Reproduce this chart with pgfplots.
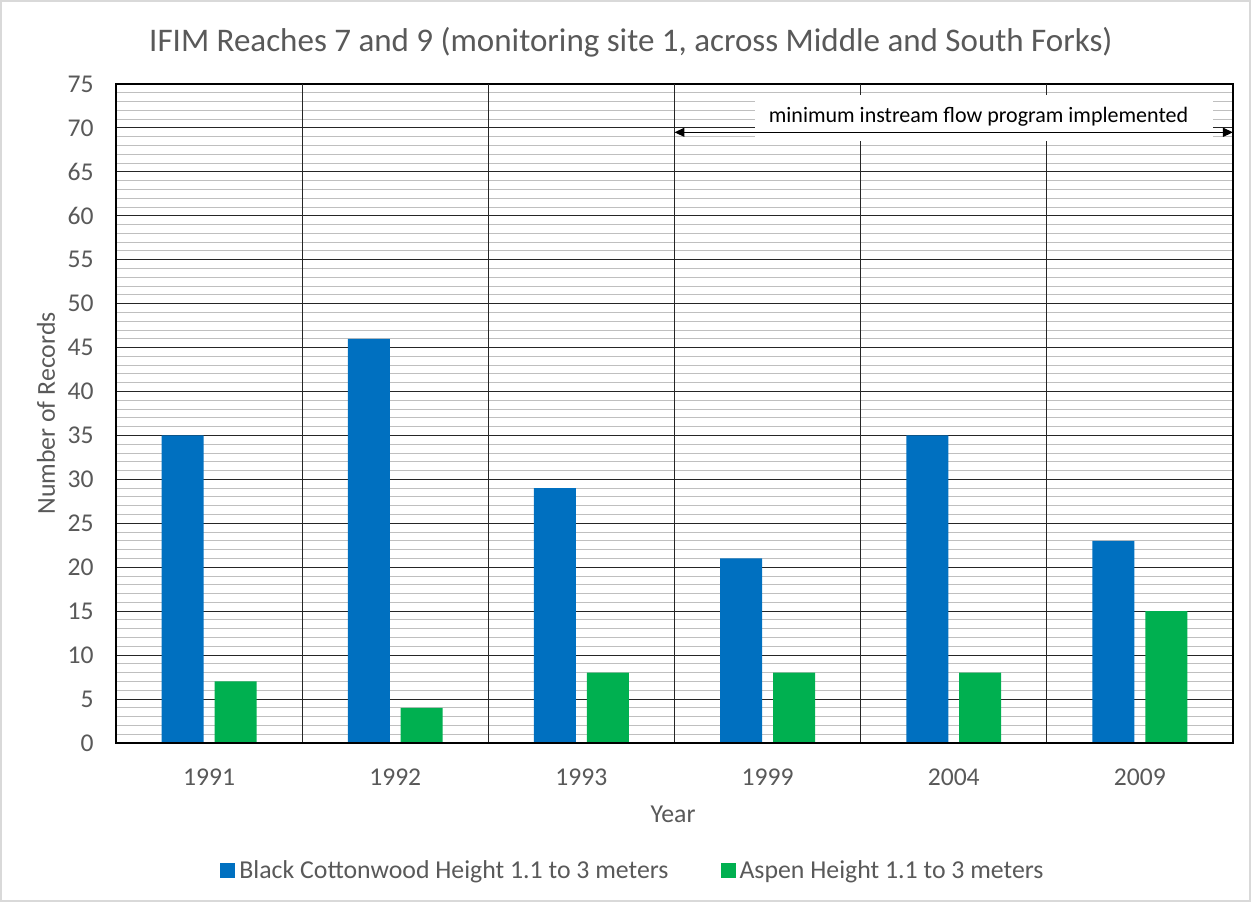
\documentclass[border=0pt]{standalone}
\usepackage{pgfplots}
\pgfplotsset{compat=1.18}
\usepackage{fontspec}
\setmainfont{Carlito}
\usetikzlibrary{arrows.meta}
\definecolor{cblue}{HTML}{0070C0}
\definecolor{cgreen}{HTML}{00B050}
\definecolor{txt}{HTML}{595959}
\definecolor{mgrid}{HTML}{BFBFBF}
\definecolor{frame}{HTML}{D9D9D9}
\definecolor{majgrid}{HTML}{262626}
\begin{document}
\begin{tikzpicture}
\path[use as bounding box] (0,0) rectangle (625.5bp,451bp);
\fill[white] (0,0) rectangle (625.5bp,451bp);
\draw[frame, line width=1bp] (0.5bp,0.5bp) rectangle (625bp,450.5bp);
\begin{axis}[
  at={(58bp,79.5bp)}, anchor=south west, scale only axis,
  width=558.5bp, height=329.5bp,
  xmin=-0.5, xmax=5.5, ymin=0, ymax=75,
  xtick={0,...,5}, xticklabels={1991,1992,1993,1999,2004,2009},
  ytick={0,5,...,75}, minor y tick num=4,
  ymajorgrids, yminorgrids,
  major grid style={majgrid, line width=0.5bp},
  minor grid style={mgrid, line width=0.5bp},
  extra x ticks={0.5,1.5,2.5,3.5,4.5}, extra x tick labels={},
  extra x tick style={grid=major, major tick length=0pt},
  major tick length=0pt, minor tick length=0pt,
  axis line style={black, line width=0.6bp},
  ticklabel style={font=\fontsize{12.8bp}{15bp}\selectfont, text=txt},
  /pgf/number format/assume math mode=true,
  xticklabel style={anchor=center, yshift=-17bp},
  yticklabel style={anchor=east, xshift=-7.7bp},
  xlabel={Year}, ylabel={Number of Records},
  every axis x label/.style={at={(axis description cs:0.4987,-0.1077)}, anchor=center, font=\fontsize{12.9bp}{15bp}\selectfont, text=txt},
  every axis y label/.style={at={(axis description cs:-0.0627,0.5)}, anchor=center, rotate=90, font=\fontsize{12.9bp}{15bp}\selectfont, text=txt},
  title={IFIM Reaches 7 and 9 (monitoring site 1, across Middle and South Forks)},
  every axis title/.style={at={(axis description cs:0.461,1.0637)}, anchor=center, font=\fontsize{16.5bp}{19bp}\selectfont, text=txt},
  legend style={at={(0.4637,-0.194)}, anchor=center, draw=none, fill=none,
    legend columns=2, font=\fontsize{12.9bp}{15bp}\selectfont, text=txt,
    /tikz/every even column/.append style={column sep=24bp}},
  legend image code/.code={\fill[#1] (0bp,-3.75bp) rectangle (7.5bp,3.75bp);},
  clip=false,
]
\addplot[ybar, fill=cblue, draw=none, bar width=0.2256, bar shift=-0.142]
  coordinates {(0,35) (1,46) (2,29) (3,21) (4,35) (5,23)};
\addlegendentry{Black Cottonwood Height 1.1 to 3 meters}
\addplot[ybar, fill=cgreen, draw=none, bar width=0.2256, bar shift=0.142]
  coordinates {(0,7) (1,4) (2,8) (3,8) (4,8) (5,15)};
\addlegendentry{Aspen Height 1.1 to 3 meters}
\fill[white] (axis cs:2.932,68.5) rectangle (axis cs:5.393,73.7);
\node[font=\fontsize{11bp}{13bp}\selectfont, text=black] at (axis cs:4.133,71.3) {minimum instream flow program implemented};
\draw[black, line width=0.6bp, {Triangle[length=5bp,width=4.5bp]}-{Triangle[length=5bp,width=4.5bp]}] (axis cs:2.5,69.5) -- (axis cs:5.5,69.5);
\draw[black, line width=1bp] (axis cs:-0.5,0) -- (axis cs:5.5,0);
\end{axis}
\end{tikzpicture}
\end{document}
